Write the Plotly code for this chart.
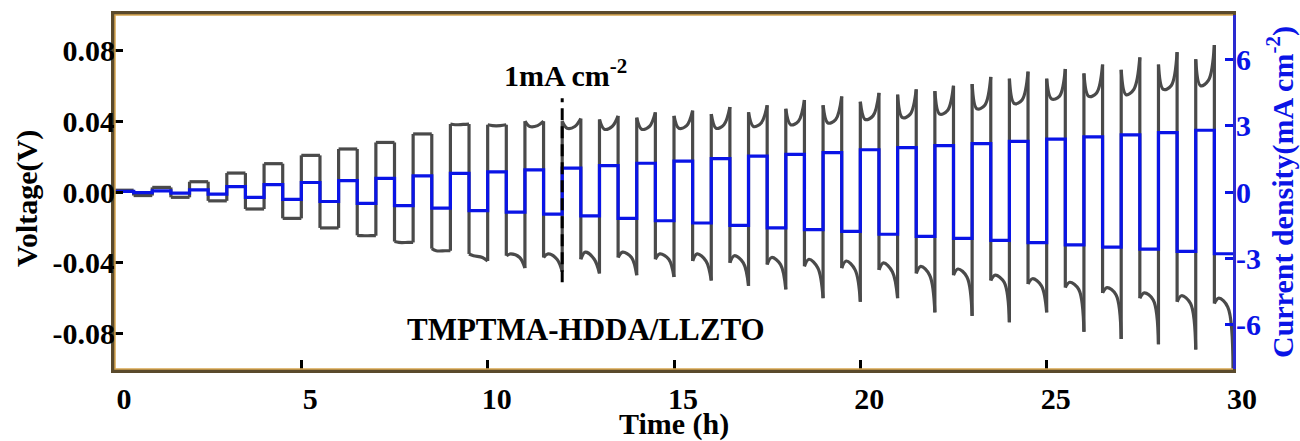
import plotly.graph_objects as go

# ---- data -------------------------------------------------------------
# start time (h) of each 1 h cycle: +I for the first half hour, -I for the second
cycle_start_h = [0, 1, 2, 3, 4, 5, 6, 7, 8, 9, 10, 11, 12, 13, 14,
                 15, 16, 17, 18, 19, 20, 21, 22, 23, 24, 25, 26, 27, 28, 29]

# applied current density per cycle (mA cm-2)
current_density = [0.03, 0.05, 0.10, 0.24, 0.33, 0.43, 0.51, 0.62, 0.73, 0.84,
                   0.91, 1.00, 1.08, 1.19, 1.30, 1.40, 1.51, 1.62, 1.70, 1.78,
                   1.91, 2.01, 2.10, 2.19, 2.29, 2.39, 2.49, 2.58, 2.68, 2.79]

# cell voltage (V) in the positive half: at switch-on, early minimum,
# late minimum, at switch-off
pos_start = [0.001, 0.0026, 0.0058, 0.0107, 0.016, 0.0207, 0.0243, 0.028, 0.0328, 0.0384,
             0.038, 0.040, 0.040, 0.041, 0.042, 0.043, 0.044, 0.045, 0.047, 0.049,
             0.051, 0.055, 0.057, 0.061, 0.064, 0.064, 0.067, 0.069, 0.072, 0.075]
pos_early = [0.001, 0.0026, 0.0058, 0.0107, 0.016, 0.0207, 0.0243, 0.028, 0.0328, 0.038,
             0.0375, 0.037, 0.036, 0.0355, 0.0355, 0.036, 0.036, 0.037, 0.038, 0.039,
             0.041, 0.042, 0.044, 0.047, 0.050, 0.0526, 0.054, 0.055, 0.058, 0.060]
pos_late = [0.001, 0.0026, 0.0058, 0.0107, 0.016, 0.0207, 0.0243, 0.028, 0.0328, 0.0382,
            0.0375, 0.0375, 0.037, 0.037, 0.037, 0.0375, 0.038, 0.039, 0.040, 0.041,
            0.043, 0.044, 0.046, 0.049, 0.052, 0.054, 0.056, 0.058, 0.060, 0.063]
pos_end = [0.001, 0.0026, 0.0058, 0.0107, 0.016, 0.0207, 0.0243, 0.028, 0.0328, 0.0384,
           0.038, 0.040, 0.0415, 0.043, 0.045, 0.046, 0.048, 0.049, 0.052, 0.054,
           0.056, 0.058, 0.060, 0.065, 0.068, 0.0695, 0.072, 0.076, 0.079, 0.083]

# cell voltage (V) in the negative half: at switch-on, early maximum,
# late value, at switch-off
neg_start = [-0.002, -0.003, -0.005, -0.0096, -0.0149, -0.0203, -0.0245, -0.028, -0.032, -0.035,
             -0.036, -0.037, -0.038, -0.037, -0.038, -0.039, -0.040, -0.041, -0.042, -0.043,
             -0.044, -0.046, -0.047, -0.050, -0.052, -0.054, -0.057, -0.060, -0.062, -0.063]
neg_early = [-0.002, -0.003, -0.005, -0.0096, -0.0149, -0.0203, -0.0247, -0.0285, -0.0332, -0.036,
             -0.035, -0.035, -0.034, -0.034, -0.035, -0.035, -0.036, -0.037, -0.038, -0.039,
             -0.040, -0.042, -0.0435, -0.047, -0.049, -0.051, -0.054, -0.057, -0.0586, -0.060]
neg_late = [-0.002, -0.003, -0.005, -0.0096, -0.0149, -0.0203, -0.0247, -0.0285, -0.0332, -0.037,
            -0.037, -0.038, -0.038, -0.037, -0.038, -0.039, -0.040, -0.041, -0.043, -0.044,
            -0.045, -0.047, -0.048, -0.051, -0.053, -0.055, -0.058, -0.061, -0.063, -0.065]
neg_end = [-0.002, -0.003, -0.005, -0.0096, -0.0149, -0.0203, -0.0247, -0.0285, -0.0332, -0.039,
           -0.043, -0.045, -0.046, -0.047, -0.048, -0.050, -0.053, -0.055, -0.060, -0.062,
           -0.060, -0.068, -0.070, -0.0736, -0.068, -0.079, -0.083, -0.086, -0.089, -0.105]

HALF = 0.5                     # duration of one polarity step (h)
POS_OFFSETS = [0.0, 0.13, 0.34, HALF]   # sample times inside a positive step (h)
NEG_OFFSETS = [0.0, 0.12, 0.36, HALF]   # sample times inside a negative step (h)

x_ticks = [0, 5, 10, 15, 20, 25, 30]
v_ticks = [-0.08, -0.04, 0.0, 0.04, 0.08]
v_ticktext = ["-0.08", "-0.04", "0.00", "0.04", "0.08"]
i_ticks = [-6, -3, 0, 3, 6]
i_ticktext = ["-6", "-3", "0", "3", "6"]

FONT = "Liberation Serif"
FS = 30
GRAY = "#4a4a4a"
BLUE = "#0a14e6"

# ---- build polylines ----------------------------------------------------
curve_x, curve_y = [], []   # smooth voltage inside each step
jump_x, jump_y = [], []     # vertical jumps at each current reversal
prev = 0.0
for k, t0 in enumerate(cycle_start_h):
    t1 = t0 + HALF
    jump_x += [t0, t0, None]
    jump_y += [prev, pos_start[k], None]
    curve_x += [t0 + d for d in POS_OFFSETS] + [None]
    curve_y += [pos_start[k], pos_early[k], pos_late[k], pos_end[k], None]
    jump_x += [t1, t1, None]
    jump_y += [pos_end[k], neg_start[k], None]
    curve_x += [t1 + d for d in NEG_OFFSETS] + [None]
    curve_y += [neg_start[k], neg_early[k], neg_late[k], neg_end[k], None]
    prev = neg_end[k]

cur_x, cur_y = [], []
for k, t0 in enumerate(cycle_start_h):
    cur_x += [t0, t0 + HALF]
    cur_y += [current_density[k], -current_density[k]]
cur_x.append(cycle_start_h[-1] + 2 * HALF)
cur_y.append(-current_density[-1])

fig = go.Figure()
fig.add_trace(go.Scatter(x=jump_x, y=jump_y, mode="lines",
                         line=dict(color=GRAY, width=3.2), hoverinfo="skip"))
fig.add_trace(go.Scatter(x=curve_x, y=curve_y, mode="lines",
                         line=dict(color=GRAY, width=3.2, shape="spline", smoothing=1.0),
                         connectgaps=False))
fig.add_trace(go.Scatter(x=cur_x, y=cur_y, mode="lines", yaxis="y2",
                         line=dict(color=BLUE, width=3.2, shape="hv")))

tickfont = dict(family=FONT, size=FS, color="black", weight="bold")

fig.update_layout(
    width=1300, height=441,
    margin=dict(l=115, r=67, t=15, b=72),
    paper_bgcolor="white", plot_bgcolor="white",
    showlegend=False,
    xaxis=dict(range=[0, 30], tickvals=x_ticks, ticks="inside", ticklen=9,
               tickwidth=3, tickcolor="black", showgrid=False, zeroline=False,
               showline=True, linecolor="#5a4a2c", linewidth=4, mirror=True,
               tickfont=tickfont, ticklabelshift=9),
    yaxis=dict(range=[-0.1, 0.1], tickvals=v_ticks, ticktext=v_ticktext,
               ticks="inside", ticklen=8, tickwidth=3, tickcolor="black",
               showgrid=False, zeroline=False, showline=True,
               linecolor="#5a4a2c", linewidth=4, tickfont=tickfont,
               ticklabelstandoff=-10),
    yaxis2=dict(range=[-8, 8], tickvals=i_ticks, ticktext=i_ticktext,
                overlaying="y", side="right",
                ticks="inside", ticklen=8, tickwidth=3, tickcolor=BLUE,
                showgrid=False, zeroline=False, showline=True,
                linecolor="#2a2ad0", linewidth=3, ticklabelstandoff=-6,
                tickfont=dict(family=FONT, size=FS, color=BLUE, weight="bold")),
)

# gold inner stripe of the frame (left, top, bottom)
fig.add_shape(type="path", xref="paper", yref="paper",
              path="M 1 0 L 0 0 L 0 1 L 1 1",
              line=dict(color="#d8a650", width=1.5))

# 1 mA cm-2 marker
fig.add_shape(type="line", xref="x", yref="y", x0=12, x1=12, y0=-0.051, y1=0.053,
              line=dict(color="black", width=3, dash="12px,6px"))

title_font = dict(family=FONT, size=FS, color="black", weight="bold")
fig.add_annotation(x=12.1, y=0.0673, xref="x", yref="y", showarrow=False,
                   text="1mA cm<sup>-2</sup>", font=title_font)
fig.add_annotation(x=12.65, y=-0.0774, xref="x", yref="y", showarrow=False,
                   text="TMPTMA-HDDA/LLZTO", font=dict(family=FONT, size=31,
                                                     color="black", weight="bold"))
fig.add_annotation(x=0.5, y=0, xref="paper", yref="paper", showarrow=False,
                   yanchor="middle", yshift=-55, text="Time (h)", font=title_font)
fig.add_annotation(x=0, y=0.5, xref="paper", yref="paper", showarrow=False,
                   xanchor="center", yanchor="middle", xshift=-88, yshift=-7,
                   textangle=-90, text="Voltage(V)", font=title_font)
fig.add_annotation(x=1, y=0.5, xref="paper", yref="paper", showarrow=False,
                   xanchor="center", yanchor="middle", xshift=47,
                   textangle=-90, text="Current density(mA cm<sup>-2</sup>)",
                   font=dict(family=FONT, size=FS, color=BLUE, weight="bold"))

fig.write_html("out.html")
